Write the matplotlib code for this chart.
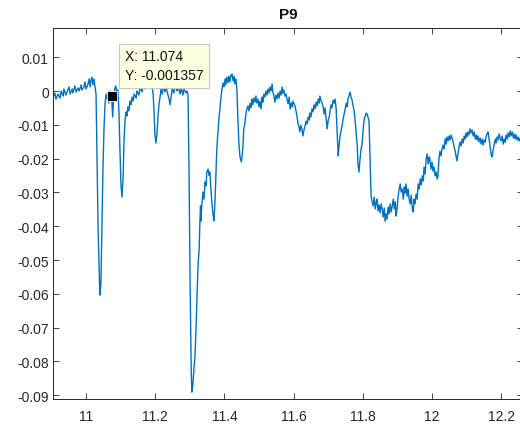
import numpy as np
import matplotlib.pyplot as plt

plt.rcParams["font.family"] = ["Liberation Sans", "DejaVu Sans"]
plt.rcParams["axes.unicode_minus"] = False

# baseline before the first dip
t_lead = [10.905, 10.910, 10.913, 10.919, 10.925, 10.928, 10.934, 10.936, 10.942, 10.945,
          10.951, 10.954, 10.960, 10.962, 10.968, 10.971, 10.977, 10.980, 10.986, 10.988,
          10.994, 10.997, 11.000, 11.006, 11.009, 11.012, 11.014, 11.017, 11.020, 11.023,
          11.026, 11.029]
v_lead = [-0.0018, -0.0006, -0.0024, -0.0009, -0.0021, 0.0000, -0.0015, 0.0006, -0.0012, -0.0003,
          0.0012, -0.0009, 0.0006, -0.0006, 0.0015, -0.0003, 0.0009, 0.0000, 0.0018, 0.0003,
          0.0012, 0.0027, 0.0006, 0.0021, 0.0036, 0.0012, 0.0030, 0.0041, 0.0018, 0.0036,
          0.0012, -0.0009]

# three short dips
t_dips = [11.032, 11.035, 11.038, 11.040, 11.043, 11.046, 11.049, 11.052, 11.055, 11.058,
          11.061, 11.064, 11.066, 11.069, 11.074, 11.077, 11.080, 11.083, 11.086, 11.089,
          11.092, 11.095, 11.098, 11.101, 11.104, 11.107, 11.110, 11.113, 11.116, 11.118,
          11.121, 11.124, 11.127, 11.130, 11.133, 11.136, 11.139, 11.145, 11.147, 11.153,
          11.156, 11.162, 11.165, 11.171, 11.176, 11.182, 11.185, 11.191, 11.194, 11.197,
          11.199, 11.202, 11.205, 11.208, 11.211, 11.214, 11.217, 11.220, 11.225, 11.228,
          11.231, 11.237, 11.240, 11.243, 11.246, 11.249, 11.254, 11.257, 11.263, 11.266,
          11.272, 11.275, 11.280, 11.283, 11.289, 11.292, 11.295]
v_dips = [-0.0201, -0.0408, -0.0527, -0.0604, -0.0571, -0.0408, -0.0231, -0.0112, -0.0038, -0.0009,
          -0.0024, -0.0003, -0.0036, 0.0000, -0.001357, -0.0077, -0.0018, 0.0006, 0.0015, -0.0003,
          0.0003, -0.0055, -0.0172, -0.0275, -0.0314, -0.0260, -0.0142, -0.0083, -0.0062, -0.0074,
          -0.0047, -0.0059, -0.0030, -0.0041, -0.0018, -0.0030, -0.0009, -0.0021, 0.0000, -0.0012,
          0.0012, -0.0003, 0.0018, 0.0006, 0.0021, 0.0009, 0.0024, 0.0012, -0.0009, -0.0068,
          -0.0127, -0.0154, -0.0127, -0.0077, -0.0038, -0.0018, 0.0006, -0.0009, 0.0018, -0.0003,
          0.0012, -0.0012, -0.0024, -0.0041, -0.0018, 0.0006, -0.0006, 0.0018, 0.0000, 0.0015,
          -0.0009, 0.0009, -0.0012, 0.0006, -0.0006, 0.0000, -0.0012]

# deep dip and the bump after it
t_deep = [11.298, 11.301, 11.304, 11.306, 11.309, 11.312, 11.315, 11.318, 11.321, 11.324,
          11.327, 11.329, 11.331, 11.332, 11.335, 11.338, 11.341, 11.344, 11.347, 11.349,
          11.353, 11.355, 11.358, 11.361, 11.364, 11.367, 11.370, 11.373, 11.376, 11.378,
          11.381, 11.384, 11.387, 11.390, 11.393, 11.396, 11.399, 11.402, 11.404, 11.407,
          11.410, 11.413, 11.416, 11.419, 11.422, 11.425, 11.428, 11.430, 11.433, 11.436,
          11.439, 11.442, 11.445, 11.449, 11.453, 11.456, 11.459, 11.462, 11.465, 11.468]
v_deep = [-0.0260, -0.0586, -0.0822, -0.0891, -0.0867, -0.0822, -0.0784, -0.0704, -0.0601, -0.0512,
          -0.0467, -0.0393, -0.0340, -0.0385, -0.0334, -0.0299, -0.0320, -0.0269, -0.0281, -0.0240,
          -0.0231, -0.0249, -0.0240, -0.0290, -0.0334, -0.0364, -0.0384, -0.0320, -0.0231, -0.0172,
          -0.0127, -0.0083, -0.0053, -0.0018, 0.0006, 0.0024, 0.0012, 0.0036, 0.0018, 0.0041,
          0.0024, 0.0044, 0.0027, 0.0047, 0.0050, 0.0030, 0.0044, 0.0021, 0.0036, 0.0006,
          -0.0083, -0.0157, -0.0195, -0.0210, -0.0172, -0.0112, -0.0098, -0.0068, -0.0053, -0.0044]

# wavy middle section
t_mid = [11.471, 11.474, 11.477, 11.480, 11.482, 11.485, 11.488, 11.491, 11.494, 11.497,
         11.500, 11.503, 11.506, 11.509, 11.511, 11.514, 11.517, 11.520, 11.523, 11.526,
         11.529, 11.532, 11.535, 11.538, 11.540, 11.543, 11.546, 11.549, 11.552, 11.555,
         11.558, 11.561, 11.564, 11.567, 11.569, 11.572, 11.575, 11.578, 11.581, 11.584,
         11.587, 11.590, 11.593, 11.596, 11.598, 11.604, 11.607, 11.610, 11.613, 11.616,
         11.618, 11.621, 11.624, 11.627, 11.630, 11.633, 11.636, 11.639, 11.642, 11.645,
         11.647, 11.650, 11.653, 11.656, 11.659, 11.662, 11.665, 11.668, 11.671, 11.674,
         11.676, 11.679, 11.682, 11.685, 11.688, 11.691, 11.694, 11.697, 11.700, 11.703,
         11.705, 11.708, 11.711, 11.714, 11.717, 11.720, 11.723, 11.726, 11.729, 11.731,
         11.734, 11.737, 11.740, 11.743, 11.746, 11.749, 11.752, 11.755, 11.757, 11.760,
         11.763, 11.766, 11.769, 11.772, 11.775, 11.778, 11.781, 11.784, 11.786, 11.789,
         11.792, 11.795, 11.798, 11.801, 11.804, 11.807, 11.810, 11.812, 11.815, 11.818]
v_mid = [-0.0059, -0.0036, -0.0050, -0.0024, -0.0041, -0.0021, -0.0033, -0.0015, -0.0036, -0.0024,
         -0.0047, -0.0030, -0.0053, -0.0018, -0.0033, -0.0009, -0.0018, 0.0000, -0.0012, 0.0006,
         -0.0006, 0.0012, 0.0000, 0.0021, -0.0003, -0.0015, -0.0033, -0.0012, -0.0024, -0.0006,
         -0.0021, 0.0000, -0.0012, 0.0012, -0.0006, 0.0003, -0.0015, -0.0009, -0.0024, -0.0038,
         -0.0018, -0.0053, -0.0036, -0.0047, -0.0030, -0.0044, -0.0059, -0.0077, -0.0098, -0.0107,
         -0.0121, -0.0101, -0.0112, -0.0133, -0.0115, -0.0104, -0.0089, -0.0098, -0.0077, -0.0086,
         -0.0065, -0.0077, -0.0053, -0.0062, -0.0041, -0.0053, -0.0033, -0.0044, -0.0024, -0.0036,
         -0.0015, -0.0027, -0.0036, -0.0044, -0.0068, -0.0050, -0.0083, -0.0112, -0.0086, -0.0077,
         -0.0062, -0.0041, -0.0050, -0.0027, -0.0036, -0.0024, -0.0053, -0.0127, -0.0192, -0.0166,
         -0.0136, -0.0118, -0.0104, -0.0083, -0.0068, -0.0053, -0.0036, -0.0047, -0.0024, -0.0015,
         -0.0003, -0.0018, -0.0027, -0.0044, -0.0059, -0.0089, -0.0127, -0.0163, -0.0216, -0.0240,
         -0.0201, -0.0172, -0.0157, -0.0112, -0.0083, -0.0074, -0.0065, -0.0068, -0.0077, -0.0089]

# drop near 11.82 and slow recovery
t_low = [11.821, 11.824, 11.827, 11.830, 11.833, 11.836, 11.839, 11.841, 11.844, 11.847,
         11.850, 11.853, 11.856, 11.859, 11.862, 11.865, 11.867, 11.870, 11.873, 11.876,
         11.879, 11.882, 11.885, 11.888, 11.891, 11.894, 11.896, 11.899, 11.902, 11.905,
         11.908, 11.911, 11.914, 11.917, 11.920, 11.922, 11.925, 11.928, 11.931, 11.934,
         11.937, 11.940, 11.943, 11.946, 11.948, 11.951, 11.954, 11.957, 11.960, 11.963,
         11.966, 11.969, 11.972, 11.975, 11.977, 11.980, 11.983, 11.986, 11.989, 11.992,
         11.994, 11.997, 12.000, 12.003, 12.006, 12.009, 12.012, 12.015, 12.017, 12.020]
v_low = [-0.0201, -0.0311, -0.0328, -0.0340, -0.0314, -0.0349, -0.0328, -0.0320, -0.0355, -0.0337,
         -0.0361, -0.0334, -0.0349, -0.0373, -0.0346, -0.0385, -0.0364, -0.0379, -0.0343, -0.0364,
         -0.0334, -0.0358, -0.0340, -0.0320, -0.0349, -0.0328, -0.0370, -0.0349, -0.0314, -0.0290,
         -0.0275, -0.0299, -0.0290, -0.0320, -0.0284, -0.0302, -0.0275, -0.0311, -0.0290, -0.0320,
         -0.0334, -0.0308, -0.0349, -0.0358, -0.0320, -0.0334, -0.0305, -0.0320, -0.0275, -0.0290,
         -0.0260, -0.0278, -0.0251, -0.0266, -0.0225, -0.0246, -0.0201, -0.0186, -0.0216, -0.0195,
         -0.0201, -0.0231, -0.0210, -0.0237, -0.0225, -0.0251, -0.0240, -0.0260, -0.0254, -0.0201]

# tail
t_tail = [12.023, 12.026, 12.029, 12.032, 12.035, 12.038, 12.041, 12.043, 12.046, 12.049,
          12.052, 12.055, 12.058, 12.061, 12.064, 12.067, 12.070, 12.072, 12.075, 12.078,
          12.081, 12.084, 12.087, 12.090, 12.093, 12.096, 12.099, 12.101, 12.104, 12.107,
          12.110, 12.113, 12.116, 12.119, 12.122, 12.125, 12.128, 12.130, 12.133, 12.136,
          12.139, 12.142, 12.145, 12.148, 12.151, 12.154, 12.156, 12.159, 12.162, 12.165,
          12.168, 12.171, 12.174, 12.177, 12.180, 12.183, 12.185, 12.188, 12.191, 12.194,
          12.197, 12.200, 12.203, 12.206, 12.209, 12.212, 12.214, 12.217, 12.220, 12.223,
          12.226, 12.229, 12.232, 12.235, 12.238, 12.240, 12.243, 12.246, 12.249, 12.252,
          12.255, 12.260]
v_tail = [-0.0178, -0.0192, -0.0172, -0.0160, -0.0172, -0.0142, -0.0157, -0.0136, -0.0148, -0.0133,
          -0.0145, -0.0130, -0.0139, -0.0151, -0.0166, -0.0178, -0.0195, -0.0207, -0.0186, -0.0166,
          -0.0151, -0.0163, -0.0142, -0.0154, -0.0133, -0.0142, -0.0124, -0.0136, -0.0121, -0.0130,
          -0.0112, -0.0124, -0.0115, -0.0133, -0.0121, -0.0142, -0.0130, -0.0145, -0.0133, -0.0151,
          -0.0139, -0.0157, -0.0142, -0.0160, -0.0145, -0.0151, -0.0136, -0.0127, -0.0121, -0.0142,
          -0.0166, -0.0189, -0.0195, -0.0172, -0.0157, -0.0142, -0.0154, -0.0136, -0.0145, -0.0127,
          -0.0139, -0.0148, -0.0133, -0.0157, -0.0142, -0.0151, -0.0130, -0.0142, -0.0124, -0.0136,
          -0.0118, -0.0133, -0.0121, -0.0139, -0.0127, -0.0142, -0.0130, -0.0145, -0.0136, -0.0148,
          -0.0139, -0.0145]

tip_x = 11.074
tip_y = -0.001357

xticks = [11, 11.2, 11.4, 11.6, 11.8, 12, 12.2]
xticklabels = ["11", "11.2", "11.4", "11.6", "11.8", "12", "12.2"]
yticks = [0.01, 0, -0.01, -0.02, -0.03, -0.04, -0.05, -0.06, -0.07, -0.08, -0.09]
yticklabels = ["0.01", "0", "-0.01", "-0.02", "-0.03", "-0.04", "-0.05", "-0.06", "-0.07", "-0.08", "-0.09"]

t = np.concatenate([t_lead, t_dips, t_deep, t_mid, t_low, t_tail])
v = np.concatenate([v_lead, v_dips, v_deep, v_mid, v_low, v_tail])

fig = plt.figure(figsize=(5.2, 4.27), dpi=100)
ax = fig.add_axes([53 / 520, 27 / 427, 470 / 520, 371 / 427])

ax.plot(t, v, color="#0072BD", lw=1.0)
ax.set_xlim(10.9046, 12.263)
ax.set_ylim(-0.09112, 0.01864)
ax.set_xticks(xticks)
ax.set_xticklabels(xticklabels)
ax.set_yticks(yticks)
ax.set_yticklabels(yticklabels)

ax.tick_params(direction="in", top=True, right=True, length=4, width=0.6,
               labelsize=10, colors="#262626")
ax.tick_params(axis="x", pad=7)
ax.tick_params(axis="y", pad=3)
for s in ax.spines.values():
    s.set_color("#262626")
    s.set_linewidth(0.7)

ax.set_title("P9", fontsize=11, fontweight="bold", color="#111111", pad=7)

# data tip
ax.plot([tip_x], [tip_y], "s", color="black", ms=6.5, mec="white", mew=0.6, zorder=5)
ax.annotate("X: %.3f\nY: %.6f" % (tip_x, tip_y), xy=(tip_x, tip_y),
            xytext=(9.5, 9.5), textcoords="offset points", ha="left", va="bottom",
            fontsize=10, color="#111111", linespacing=1.45, zorder=6,
            bbox=dict(boxstyle="square,pad=0.42", fc="#FFFFE1", ec="#C8C8C8", lw=0.8))

fig.savefig("out.png", dpi=100)
